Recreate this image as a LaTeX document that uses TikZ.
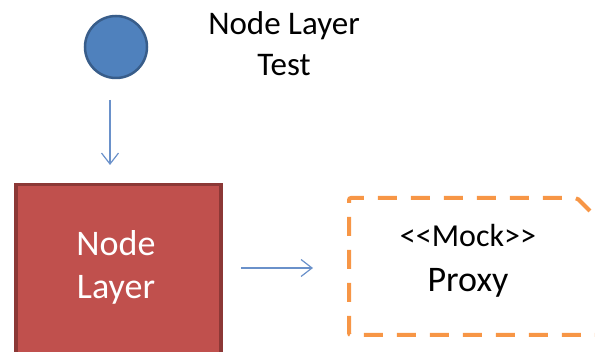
\documentclass[tikz,border=0pt]{standalone}
\usepackage{fontspec}
\setmainfont{Carlito}
\usetikzlibrary{arrows.meta}
\definecolor{blueFill}{RGB}{79,129,189}
\definecolor{blueEdge}{RGB}{56,93,138}
\definecolor{redFill}{RGB}{192,80,77}
\definecolor{redEdge}{RGB}{140,56,54}
\definecolor{orangeLine}{RGB}{247,150,70}
\definecolor{arrowBlue}{RGB}{106,145,202}
\tikzset{
  flow/.style={draw=arrowBlue, line width=1.2pt, -{Straight Barb[length=11pt,width=17pt]}},
  label/.style={inner sep=0pt, align=center},
  mockline/.style={draw=orangeLine, line width=4pt, dash pattern=on 19pt off 14pt, rounded corners=2pt},
}
\begin{document}
\begin{tikzpicture}[x=1pt,y=-1pt]
\path[use as bounding box, clip] (0,0) rectangle (595,352);
% actor circle and its caption
\node[circle, fill=blueFill, draw=blueEdge, line width=2.5pt, minimum size=62pt, inner sep=0pt] (actor) at (116,47) {};
\node[label, font=\fontsize{33}{41}\selectfont] (title) at (284,44) {Node Layer\\Test};
% the node layer box
\node[fill=redFill, draw=redEdge, line width=3.5pt, minimum width=205pt, minimum height=200pt, anchor=north west, inner sep=0pt] (layer) at (14,183) {};
\node[label, text=white, font=\fontsize{36}{43}\selectfont] (layertext) at (116,267) {Node\\Layer};
% dashed mock proxy outline with a cut corner
\coordinate (corner) at (349,203);
\draw[mockline] (corner) -- (349,198) -- (577,198) -- (660,281);
\draw[mockline, dash phase=19pt] (corner) -- (349,335) -- (660,335);
\node[label, anchor=base, font=\fontsize{32}{36}\selectfont] (mock) at (468,247) {<\kern0pt<Mock>\kern0pt>};
\node[label, anchor=base, font=\fontsize{36}{43}\selectfont] (proxy) at (468,292) {Proxy};
% connectors
\coordinate (a1) at (110,100);
\coordinate (a2) at (110,165);
\coordinate (b1) at (241,268);
\coordinate (b2) at (313,268);
\draw[flow] (a1) -- (a2);
\draw[flow] (b1) -- (b2);
\end{tikzpicture}
\end{document}
